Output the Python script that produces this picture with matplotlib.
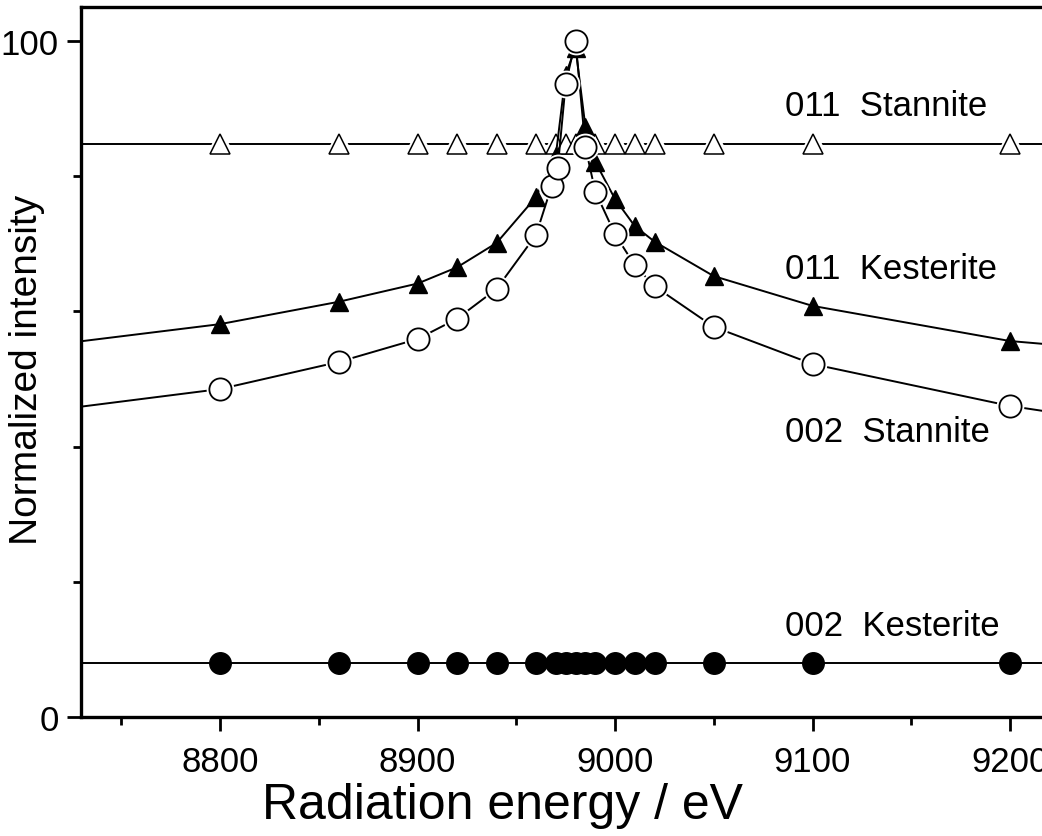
import matplotlib
matplotlib.use('Agg')
import matplotlib.pyplot as plt
from matplotlib.ticker import MultipleLocator

plt.rcParams['font.family'] = ['Liberation Sans', 'DejaVu Sans']

# ---- data ----
energy = [8700, 8800, 8860, 8900, 8920, 8940, 8960, 8970, 8975, 8980, 8985,
          8990, 9000, 9010, 9020, 9050, 9100, 9200, 9300]

kesterite_011 = [54.5, 58.1, 61.4, 64.1, 66.5, 70.1, 76.9, 83.0, 95.0, 99.0, 87.3,
                 82.1, 76.6, 72.6, 70.3, 65.2, 60.8, 55.6, 53.1]

energy_s002 = [8700, 8800, 8860, 8900, 8920, 8940, 8960, 8968, 8971, 8975, 8980,
               8985, 8990, 9000, 9010, 9020, 9050, 9100, 9200, 9300]
stannite_002 = [44.8, 48.5, 52.5, 55.9, 58.9, 63.3, 71.3, 78.6, 81.2, 93.6, 100.0,
                84.3, 77.7, 71.4, 66.8, 63.7, 57.7, 52.2, 46.0, 41.6]

stannite_011 = [84.7] * len(energy)
kesterite_002 = [8.0] * len(energy)

labels = ["011  Stannite", "011  Kesterite", "002  Stannite", "002  Kesterite"]
label_x = 9086
label_y = [90.4, 66.3, 42.2, 13.5]

# ---- figure ----
fig = plt.figure(figsize=(10.42, 8.37), dpi=100)
ax = fig.add_axes([81/1042, 1 - 718/837, 1 - 81/1042, (718 - 8)/837])

lw = 1.4
# 011 Stannite (open triangles, gap to symbol)
ax.plot(energy, stannite_011, color='black', lw=lw, zorder=1)
ax.plot(energy, stannite_011, ls='none', marker='^', ms=14, mfc='white',
        mec='white', mew=5, zorder=1.1)
ax.plot(energy, stannite_011, ls='none', marker='^', ms=14, mfc='white',
        mec='black', mew=1.1, zorder=1.2)

# 011 Kesterite (filled triangles)
ax.plot(energy, kesterite_011, color='black', lw=lw, marker='^', ms=13.5,
        mfc='black', mec='black', zorder=2)

# 002 Stannite (open circles, gap to symbol)
ax.plot(energy_s002, stannite_002, color='black', lw=lw, zorder=3)
ax.plot(energy_s002, stannite_002, ls='none', marker='o', ms=16, mfc='white',
        mec='white', mew=4, zorder=3.1)
ax.plot(energy_s002, stannite_002, ls='none', marker='o', ms=16, mfc='white',
        mec='black', mew=1.3, zorder=3.2)

# 002 Kesterite (filled circles)
ax.plot(energy, kesterite_002, color='black', lw=lw, marker='o', ms=15.5,
        mfc='black', mec='black', zorder=4)

for t, y in zip(labels, label_y):
    ax.text(label_x, y, t, fontsize=25, ha='left', va='center', zorder=5)

ax.set_xlim(8729.6, 9216.2)
ax.set_ylim(0, 105)

ax.xaxis.set_major_locator(MultipleLocator(100))
ax.xaxis.set_minor_locator(MultipleLocator(50))
ax.yaxis.set_major_locator(MultipleLocator(100))
ax.yaxis.set_minor_locator(MultipleLocator(20))

ax.tick_params(axis='both', which='major', direction='out', length=10, width=2,
               labelsize=25, pad=10)
ax.tick_params(axis='both', which='minor', direction='out', length=5.5, width=2)
ax.tick_params(axis='y', which='major', pad=6)

for s in ['left', 'bottom', 'top']:
    ax.spines[s].set_linewidth(2.4)
ax.spines['right'].set_visible(False)

ax.set_xlabel('Radiation energy / eV', fontsize=36)
ax.xaxis.set_label_coords(0.439, -0.092)
ax.set_ylabel('Normalized intensity', fontsize=28)
ax.yaxis.set_label_coords(-0.056, 0.49)
ax.yaxis.label.set_verticalalignment('center')

fig.savefig('out.png', dpi=100)
